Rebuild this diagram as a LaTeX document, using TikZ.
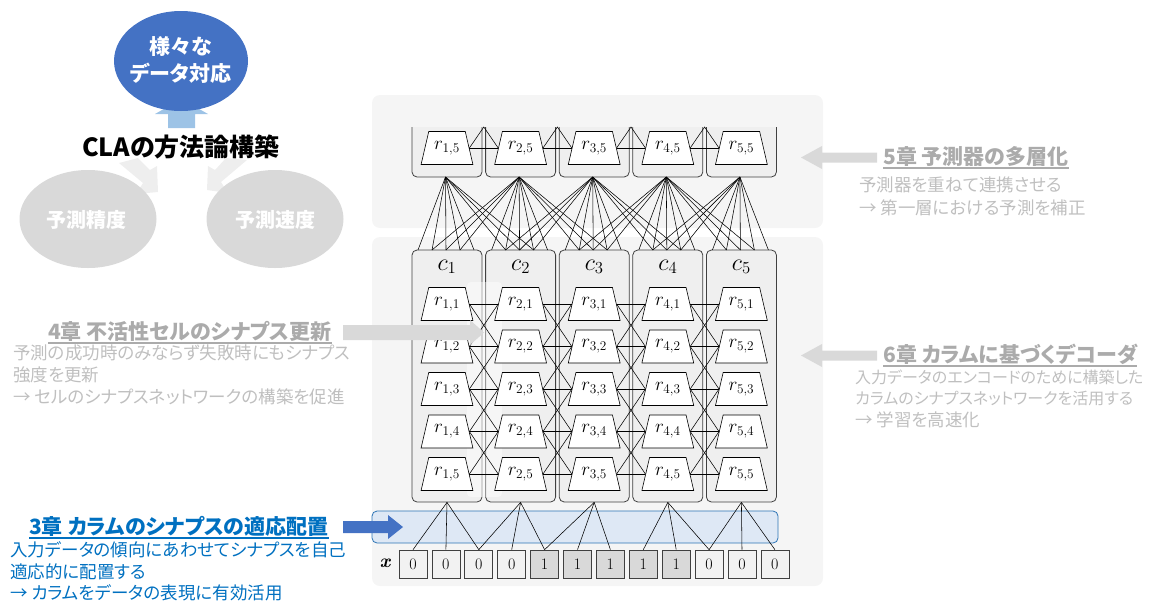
\RequirePackage{fix-cm}
\documentclass[tikz,border=0pt]{standalone}
\usepackage{fontspec}
\newfontfamily\jp[RawFeature=+palt]{Noto Sans CJK JP}
\usetikzlibrary{shapes.geometric}
\definecolor{panelgray}{HTML}{F5F5F5}
\definecolor{boxgray}{HTML}{EFEFEF}
\definecolor{boxline}{HTML}{404040}
\definecolor{onegray}{HTML}{D9D9D9}
\definecolor{zerogray}{HTML}{F2F2F2}
\definecolor{ellblue}{HTML}{4472C4}
\definecolor{arrblue}{HTML}{9DC3E6}
\definecolor{ellgray}{HTML}{D9D9D9}
\definecolor{wedgegray}{HTML}{EEEEEE}
\definecolor{txtgray}{HTML}{BFBFBF}
\definecolor{headgray}{HTML}{ABABAB}
\definecolor{txtblue}{HTML}{0070C0}
\definecolor{bandfill}{HTML}{DEE8F5}
\definecolor{bandline}{HTML}{2E75B6}
\definecolor{arrgray}{HTML}{D9D9D9}
\tikzset{
  panel/.style={fill=panelgray, draw=none, rounded corners=8pt},
  colbox/.style={rectangle, draw=boxline, fill=boxgray, line width=0.8pt, rounded corners=5pt, minimum width=70pt, minimum height=252pt, inner sep=0pt},
  boxpath/.style={draw=boxline, fill=boxgray, line width=0.8pt, rounded corners=5pt},
  cell/.style={trapezium, trapezium angle=68.5, trapezium stretches=true, minimum width=52pt, minimum height=33pt, inner sep=0pt, draw=black, fill=white, line width=0.6pt, font=\fontsize{19}{19}\selectfont},
  clabel/.style={inner sep=0pt, font=\fontsize{24}{24}\selectfont},
  link/.style={draw=black, line width=0.55pt},
  xcell/.style={rectangle, draw=boxline, line width=0.7pt, minimum width=28pt, minimum height=28pt, inner sep=0pt, font=\fontsize{16}{16}\selectfont},
  jpbody/.style={inner sep=0pt, anchor=base west, font=\jp\fontsize{17.5}{17.5}\selectfont},
  jpbodyn/.style={inner sep=0pt, anchor=base west, font=\jp\fontsize{16}{16}\selectfont},
  jphead/.style={inner sep=0pt, anchor=base west, font=\jp\bfseries\fontsize{21}{21}\selectfont},
  ell/.style={ellipse, inner sep=0pt, draw=none},
  ulgray/.style={draw=headgray, line width=1.2pt},
  ulblue/.style={draw=txtblue, line width=1.2pt},
}
\begin{document}
\begin{tikzpicture}[x=1pt,y=-1pt]
\useasboundingbox (0,0) rectangle (1155,608);

% ---------- left: goals ----------
\fill[arrblue] (168,128) -- (168,114) -- (155,114) -- (181.5,99) -- (208,114) -- (195,114) -- (195,128) -- cycle;
\node[ell, fill=ellblue, minimum width=134pt, minimum height=100pt] (goal) at (181,61) {};
\node[inner sep=0pt, text=white, font=\jp\bfseries\fontsize{21}{21}\selectfont] (goalA) at (181,47) {様々な};
\node[inner sep=0pt, text=white, font=\jp\bfseries\fontsize{21}{21}\selectfont] (goalB) at (181,73) {データ対応};
\node[inner sep=0pt, font=\jp\bfseries\fontsize{25}{25}\selectfont] (cla) at (181,147) {CLAの方法論構築};
\fill[wedgegray] (119,163) -- (138,158) -- (150,170) -- (157,166) -- (158,192) -- (136,194) -- (143,183) -- cycle;
\fill[wedgegray] (247,160) -- (226,158) -- (215,170) -- (208,166) -- (207,190) -- (228,193) -- (221,182) -- cycle;
\node[ell, fill=ellgray, minimum width=137pt, minimum height=98pt] (acc) at (88,219) {};
\node[ell, fill=ellgray, minimum width=137pt, minimum height=98pt] (spd) at (275,219) {};
\node[inner sep=0pt, text=white, font=\jp\bfseries\fontsize{20}{20}\selectfont] (accT) at (86,220) {予測精度};
\node[inner sep=0pt, text=white, font=\jp\bfseries\fontsize{20}{20}\selectfont] (spdT) at (275,220) {予測速度};

% ---------- panels ----------
\fill[panel] (372,95) rectangle (823,228);
\fill[panel] (372,237) rectangle (823,586);

% ---------- columns ----------
\foreach \i/\x in {1/447,2/520.6,3/594.2,4/667.8,5/741.4} {
  \node[colbox] (col\i) at (\x,376) {};
  \draw[boxpath] (\x-35,127) -- (\x-35,177) -- (\x+35,177) -- (\x+35,127);
  \coordinate (tb\i) at (\x-1.5,177);
}
\fill[white, opacity=0.45, rounded corners=4pt] (467,282) rectangle (502,497);
\foreach \i/\x in {1/447,2/520.6,3/594.2,4/667.8,5/741.4} {
  \node[clabel] (cl\i) at (\x,267) {$c_{\i}$};
  \foreach \j/\y in {1/304,2/346.5,3/389,4/431.5,5/474}
    \node[cell] (r\i\j) at (\x,\y) {$r_{\i,\j}$};
  \node[cell] (t\i) at (\x,148) {$r_{\i,5}$};
}
% apex points of the cropped upper layer
\foreach \i/\x in {1/483.8,2/557.4,3/631,4/704.6} \coordinate (ap\i) at (\x,127);

% lateral links, lower layer
\foreach \i [evaluate=\i as \n using int(\i+1)] in {1,2,3,4} {
  \foreach \j in {1,2,3,4,5} {
    \draw[link] (r\i\j.right side) -- (r\n\j.left side);
  }
  \foreach \j [evaluate=\j as \m using int(\j+1)] in {1,2,3,4} {
    \draw[link] (r\i\j.right side) -- (r\n\m.left side);
    \draw[link] (r\i\m.right side) -- (r\n\j.left side);
  }
  % upper layer
  \draw[link] (t\i.right side) -- (t\n.left side);
  \draw[link] (t\i.right side) -- (ap\i) -- (t\n.left side);
}

% synapse end points on the tops of the columns
\foreach \i/\x in {1/447,2/520.6,3/594.2,4/667.8,5/741.4} {
  \foreach \k/\o in {1/-29,2/-15,3/-1,4/13,5/27}
    \coordinate (e\i\k) at (\x+\o,250);
}
% fan links between layers
\foreach \i in {1,2,3,4,5} {
  \foreach \k in {1,2,3,4,5}
    \draw[link] (tb\i) -- (e\i\k);
}
\foreach \i/\j in {1/2,2/1,2/3,3/2,3/4,4/3,4/5,5/4} {
  \foreach \k in {2,3,4}
    \draw[link] (tb\i) -- (e\j\k);
}

% ---------- input band and cells ----------
\draw[fill=bandfill, draw=bandline, line width=0.8pt, rounded corners=5pt] (372,511) rectangle (778,543);
\node[inner sep=0pt, font=\fontsize{19}{19}\selectfont\bfseries\itshape] (xlab) at (385,563) {x};
\foreach \k/\v [evaluate=\k as \cx using 413+32.9*\k] in {0/0,1/0,2/0,3/0,4/1,5/1,6/1,7/1,8/1,9/0,10/0,11/0} {
  \ifnum\v=1 \def\cf{onegray}\else\def\cf{zerogray}\fi
  \node[xcell, fill=\cf] (x\k) at (\cx,564) {\v};
}
\foreach \c/\a/\b/\d in {1/0/1/2,2/2/3/4,3/4/5/6,4/7/8/9,5/9/10/11} {
  \draw[link] (col\c.south) -- (x\a.north);
  \draw[link] (col\c.south) -- (x\b.north);
  \draw[link] (col\c.south) -- (x\d.north);
}

% ---------- chapter arrows ----------
\fill[arrgray] (343,325) -- (470,325) -- (470,320) -- (484,332.5) -- (470,345) -- (470,340) -- (343,340) -- cycle;
\fill[ellblue] (343,521) -- (388,521) -- (388,515) -- (403,527) -- (388,539) -- (388,533) -- (343,533) -- cycle;
\fill[arrgray] (877,152.5) -- (822,152.5) -- (822,146) -- (801,157.5) -- (822,169) -- (822,162.5) -- (877,162.5) -- cycle;
\fill[arrgray] (877,350.5) -- (822,350.5) -- (822,344) -- (801,355.5) -- (822,367) -- (822,360.5) -- (877,360.5) -- cycle;

% ---------- chapter texts ----------
\node[jphead, text=headgray] (h4) at (48,339.5) {4章 不活性セルのシナプス更新};
\draw[ulgray] ([yshift=-3.5pt]h4.base west) -- ([yshift=-3.5pt]h4.base east);
\node[jpbody, text=txtgray] (b4a) at (13,359.5) {予測の成功時のみならず失敗時にもシナプス};
\node[jpbody, text=txtgray] (b4b) at (13,381.5) {強度を更新};
\node[jpbody, text=txtgray] (b4c) at (13,403.5) {→ セルのシナプスネットワークの構築を促進};

\node[jphead, text=txtblue] (h3) at (29,534.5) {3章 カラムのシナプスの適応配置};
\draw[ulblue] ([yshift=-3.5pt]h3.base west) -- ([yshift=-3.5pt]h3.base east);
\node[jpbody, text=txtblue] (b3a) at (10,556.5) {入力データの傾向にあわせてシナプスを自己};
\node[jpbody, text=txtblue] (b3b) at (10,578.5) {適応的に配置する};
\node[jpbody, text=txtblue] (b3c) at (10,599.5) {→ カラムをデータの表現に有効活用};

\node[jphead, text=headgray] (h5) at (883,164.5) {5章 予測器の多層化};
\draw[ulgray] ([yshift=-3.5pt]h5.base west) -- ([yshift=-3.5pt]h5.base east);
\node[jpbody, text=txtgray] (b5a) at (859,191.5) {予測器を重ねて連携させる};
\node[jpbody, text=txtgray] (b5b) at (859,214.5) {→ 第一層における予測を補正};

\node[jphead, text=headgray] (h6) at (883,362.5) {6章 カラムに基づくデコーダ};
\draw[ulgray] ([yshift=-3.5pt]h6.base west) -- ([yshift=-3.5pt]h6.base east);
\node[jpbodyn, text=txtgray] (b6a) at (855,383.5) {入力データのエンコードのために構築した};
\node[jpbodyn, text=txtgray] (b6b) at (855,404.5) {カラムのシナプスネットワークを活用する};
\node[jpbody, text=txtgray] (b6c) at (855,426.5) {→ 学習を高速化};
\end{tikzpicture}
\end{document}
